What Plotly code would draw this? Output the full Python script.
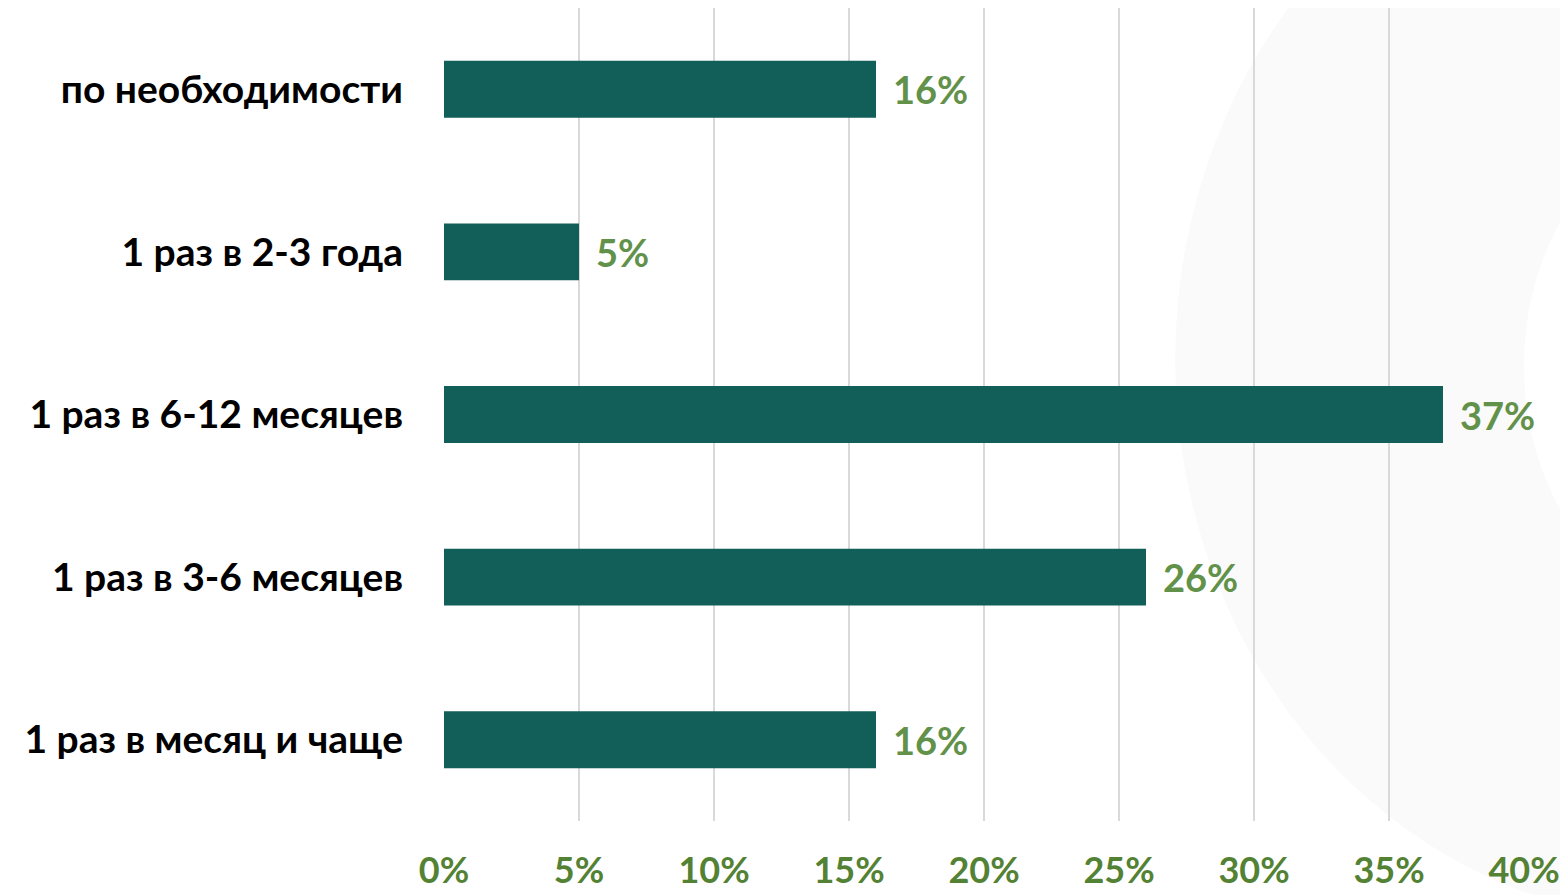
import plotly.graph_objects as go

categories = [
    "по необходимости",
    "1 раз в 2-3 года",
    "1 раз в 6-12 месяцев",
    "1 раз в 3-6 месяцев",
    "1 раз в месяц и чаще",
]
values = [16, 5, 37, 26, 16]
tick_vals = [0, 5, 10, 15, 20, 25, 30, 35, 40]
tick_text = [f"{v}%" for v in tick_vals]

BAR = "#125e58"
TICK_GREEN = "#548235"
LABEL_GREEN = "#62914a"
FONT = "Lato"

fig = go.Figure()
fig.add_trace(go.Bar(
    x=values, y=categories, orientation="h",
    marker=dict(color=BAR, line=dict(width=0)),
    width=0.35, hoverinfo="skip",
))

for c, v in zip(categories, values):
    fig.add_annotation(
        x=v, y=c, xref="x", yref="y", text=f"<b>{v}%</b>",
        showarrow=False, xanchor="left", xshift=15,
        font=dict(family=FONT, size=38, color=LABEL_GREEN),
    )

# faint decorative background shapes
fig.add_shape(type="circle", xref="paper", yref="paper",
              x0=0.677, x1=1.62, y0=-0.122, y1=1.256,
              fillcolor="#fafafa", line=dict(width=0), layer="below")
fig.add_shape(type="circle", xref="paper", yref="paper",
              x0=1.0, x1=1.35, y0=0.26, y1=0.86,
              fillcolor="#ffffff", line=dict(width=0), layer="below")

fig.update_layout(
    width=1560, height=887,
    margin=dict(l=436, r=44, t=0, b=74, autoexpand=False),
    paper_bgcolor="white", plot_bgcolor="rgba(0,0,0,0)",
    showlegend=False,
    font=dict(family=FONT),
    xaxis=dict(
        range=[0, 40], tickvals=tick_vals, ticktext=tick_text,
        showgrid=True, gridcolor="#d9d9d9", gridwidth=2,
        zeroline=False, showline=False, automargin=False,
        tickfont=dict(family=FONT, size=36, color=TICK_GREEN, weight="bold"),
        ticklabelstandoff=25,
    ),
    yaxis=dict(
        autorange="reversed", showgrid=False, zeroline=False, showline=False,
        automargin=False,
        tickfont=dict(family=FONT, size=39, color="black", weight="bold"),
        ticklabelstandoff=40,
    ),
)

fig.write_html("out.html")
